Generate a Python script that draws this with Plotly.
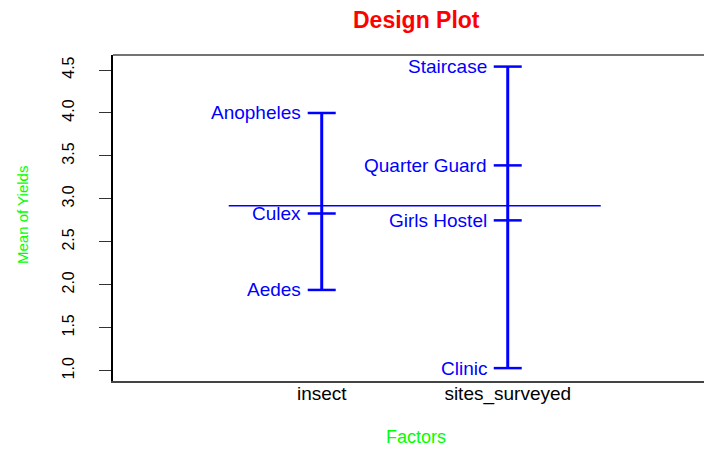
import plotly.graph_objects as go

# ---- data ----
factors = ["insect", "sites_surveyed"]
insect_levels = ["Anopheles", "Culex", "Aedes"]
insect_means = [4.00, 2.83, 1.94]
site_levels = ["Staircase", "Quarter Guard", "Girls Hostel", "Clinic"]
site_means = [4.54, 3.39, 2.75, 1.03]
grand_mean = 2.92
y_ticks = [1.0, 1.5, 2.0, 2.5, 3.0, 3.5, 4.0, 4.5]

BLUE = "#0000FF"
GREEN = "#00FF00"
FONT = "Liberation Sans, Arial, sans-serif"

groups = [(1, insect_levels, insect_means), (2, site_levels, site_means)]

fig = go.Figure()

# grand mean line
fig.add_trace(go.Scatter(x=[0.5, len(factors) + 0.5], y=[grand_mean, grand_mean],
                         mode="lines", line=dict(color=BLUE, width=1.6),
                         hoverinfo="skip", showlegend=False))

annotations = []
for xi, levels, means in groups:
    fig.add_trace(go.Scatter(x=[xi, xi], y=[min(means), max(means)], mode="lines",
                             line=dict(color=BLUE, width=3), showlegend=False,
                             hoverinfo="skip"))
    fig.add_trace(go.Scatter(x=[xi] * len(means), y=means, mode="markers",
                             marker=dict(symbol="line-ew", size=20,
                                         line=dict(color=BLUE, width=2.5)),
                             showlegend=False, hoverinfo="skip"))
    for lab, m in zip(levels, means):
        annotations.append(dict(x=xi, y=m, xref="x", yref="y", text=lab,
                                showarrow=False, xanchor="right", yanchor="middle",
                                xshift=-19, font=dict(family=FONT, size=19, color=BLUE)))

PW, PH = 591, 326  # plot area size in px

fig.update_layout(
    width=704, height=449,
    margin=dict(l=113, r=0, t=55, b=68, autoexpand=False),
    paper_bgcolor="white", plot_bgcolor="white",
    showlegend=False,
    annotations=annotations + [
        dict(x=(416 - 113) / PW, y=1 + (55 - 20) / PH, xref="paper", yref="paper",
             text="<b>Design Plot</b>", showarrow=False, xanchor="center", yanchor="middle",
             font=dict(family=FONT, size=23, color="#FF0000")),
        dict(x=(416 - 113) / PW, y=-(437 - 381) / PH, xref="paper", yref="paper",
             text="Factors", showarrow=False, xanchor="center", yanchor="middle",
             font=dict(family=FONT, size=18, color=GREEN)),
        dict(x=-(113 - 22) / PW, y=(381 - 215) / PH, xref="paper", yref="paper",
             text="Mean of Yields", showarrow=False, textangle=-90,
             xanchor="center", yanchor="middle",
             font=dict(family=FONT, size=15, color=GREEN)),
    ],
    shapes=[dict(type="line", xref="paper", yref="paper", x0=0, x1=1, y0=1, y1=1,
                 line=dict(color="#444", width=1.5))],
    xaxis=dict(range=[-0.122, 3.055], tickvals=[1, 2], ticktext=factors,
               showgrid=False, zeroline=False, showline=True, linecolor="#444",
               linewidth=1.5, ticks="", ticklabelstandoff=-6, automargin=False,
               tickfont=dict(family=FONT, size=19, color="black")),
    yaxis=dict(range=[0.88, 4.675], tickvals=y_ticks,
               ticktext=[f"{v:.1f}" for v in y_ticks],
               showgrid=False, zeroline=False, showline=True, linecolor="black",
               linewidth=1.5, ticks="outside", ticklen=12, tickcolor="#333",
               tickwidth=1, tickangle=-90, ticklabelstandoff=19, automargin=False,
               tickfont=dict(family=FONT, size=16, color="black")),
)

fig.write_html("out.html", config={"displayModeBar": False},
               post_script="document.body.style.margin='0';document.body.style.overflow='hidden';")
